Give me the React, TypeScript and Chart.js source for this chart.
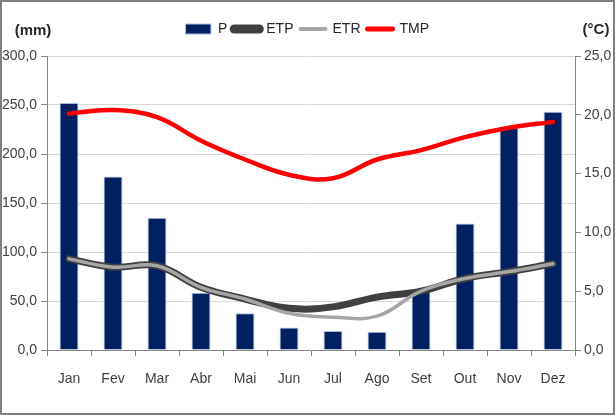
import React, { useEffect, useRef } from "react";
import { Chart, registerables } from "chart.js";

Chart.register(...registerables);

const categories = ["Jan", "Fev", "Mar", "Abr", "Mai", "Jun", "Jul", "Ago", "Set", "Out", "Nov", "Dez"];
const precipitation = [252, 177, 135, 58.5, 37.5, 23, 19.5, 18.7, 61, 129, 227, 243];
const etp = [93, 84.5, 86, 64, 52, 42.5, 44, 54, 60, 73, 80, 88];
const etr = [93, 84.5, 86, 64, 52, 37.5, 33.5, 34.5, 60, 73, 80, 88];
const tmp = [20.1, 20.4, 19.8, 17.8, 16.2, 14.9, 14.6, 16.2, 17.0, 18.1, 18.9, 19.4];
const leftTitle = "(mm)";
const rightTitle = "(°C)";

const FONT = "'Liberation Sans', Arial, sans-serif";
const fmt = (v: number) => Number(v).toFixed(1).replace(".", ",");

export default function App() {
  const ref = useRef<HTMLCanvasElement | null>(null);
  useEffect(() => {
    const canvas = ref.current;
    if (!canvas) return;
    Chart.defaults.font.family = FONT;
    const unitTitles = {
      id: "unitTitles",
      beforeUpdate(chart: any) {
        const lg = chart.legend;
        if (lg && !lg._patchedFit) {
          const orig = lg.fit.bind(lg);
          lg.fit = function () {
            orig();
            this.height = 41;
          };
          lg._patchedFit = true;
        }
      },
      afterDraw(chart: any) {
        const ctx = chart.ctx;
        ctx.save();
        ctx.font = "bold 15px " + FONT;
        ctx.fillStyle = "#262626";
        ctx.textAlign = "center";
        ctx.textBaseline = "middle";
        const top = chart.chartArea.top;
        ctx.fillText(leftTitle, chart.scales.y.left + 33, top - 25);
        ctx.fillText(rightTitle, chart.scales.y1.left + 21, top - 26);
        ctx.restore();
      },
    };
    const chart = new Chart(canvas, {
      type: "bar",
      data: {
        labels: categories,
        datasets: [
          {
            type: "bar",
            label: "P",
            data: precipitation,
            backgroundColor: "#002060",
            borderColor: "#a9bde0",
            borderWidth: 1,
            barPercentage: 0.43,
            categoryPercentage: 1,
            yAxisID: "y",
            order: 4,
          },
          {
            type: "line",
            label: "ETP",
            data: etp,
            borderColor: "#404040",
            backgroundColor: "#404040",
            borderWidth: 7,
            pointRadius: 0,
            tension: 0.4,
            borderCapStyle: "round",
            yAxisID: "y",
            order: 3,
          },
          {
            type: "line",
            label: "ETR",
            data: etr,
            borderColor: "#a6a6a6",
            backgroundColor: "#a6a6a6",
            borderWidth: 3.5,
            pointRadius: 0,
            tension: 0.4,
            borderCapStyle: "round",
            yAxisID: "y",
            order: 2,
          },
          {
            type: "line",
            label: "TMP",
            data: tmp,
            borderColor: "#ff0000",
            backgroundColor: "#ff0000",
            borderWidth: 4.5,
            pointRadius: 0,
            tension: 0.4,
            borderCapStyle: "round",
            yAxisID: "y1",
            order: 1,
          },
        ],
      },
      options: {
        responsive: false,
        animation: false,
        events: [],
        layout: { padding: { top: 15, left: 0, right: 0, bottom: 0 } },
        plugins: {
          tooltip: { enabled: false },
          legend: {
            position: "top",
            labels: {
              usePointStyle: true,
              pointStyleWidth: 25,
              boxHeight: 10,
              padding: 7,
              color: "#262626",
              font: { size: 14, family: FONT },
              generateLabels(chart: any) {
                return chart.data.datasets.map((ds: any, i: number) => ({
                  text: ds.label,
                  datasetIndex: i,
                  fillStyle: ds.backgroundColor,
                  strokeStyle: i === 0 ? "#a9bde0" : ds.borderColor,
                  lineWidth: i === 0 ? 1 : i === 1 ? 9 : i === 2 ? 4 : 5,
                  lineCap: "round",
                  pointStyle: i === 0 ? "rect" : "line",
                  hidden: false,
                  fontColor: "#262626",
                }));
              },
            },
          },
        },
        scales: {
          x: {
            offset: true,
            grid: {
              display: true,
              offset: true,
              drawOnChartArea: false,
              tickLength: 6,
              color: "#868686",
              tickColor: "#868686",
            },
            border: { color: "#868686" },
            ticks: { color: "#404040", font: { size: 14 }, padding: 15 },
            afterFit: (s: any) => {
              s.height = 65;
            },
          },
          y: {
            position: "left",
            min: 0,
            max: 300,
            ticks: { stepSize: 50, color: "#404040", font: { size: 14 }, padding: 4, callback: (v: any) => fmt(v) },
            grid: { color: "#d9d9d9", tickColor: "#868686", tickLength: 6 },
            border: { color: "#868686" },
            afterFit: (s: any) => {
              s.width = 47;
            },
          },
          y1: {
            position: "right",
            min: 0,
            max: 25,
            ticks: { stepSize: 5, color: "#404040", font: { size: 14 }, padding: 3, callback: (v: any) => fmt(v) },
            grid: { drawOnChartArea: false, tickColor: "#868686", tickLength: 6 },
            border: { color: "#868686" },
            afterFit: (s: any) => {
              s.width = 40;
            },
          },
        },
      },
      plugins: [unitTitles],
    });
    return () => chart.destroy();
  }, []);
  return (
    <div style={{ position: "fixed", left: 0, top: 0, width: 615, height: 415, background: "#fff" }}>
      <canvas ref={ref} width={615} height={415} style={{ display: "block" }} />
      <div
        style={{
          position: "absolute",
          inset: 0,
          border: "2px solid #7f7f7f",
          boxSizing: "border-box",
          pointerEvents: "none",
        }}
      />
    </div>
  );
}
